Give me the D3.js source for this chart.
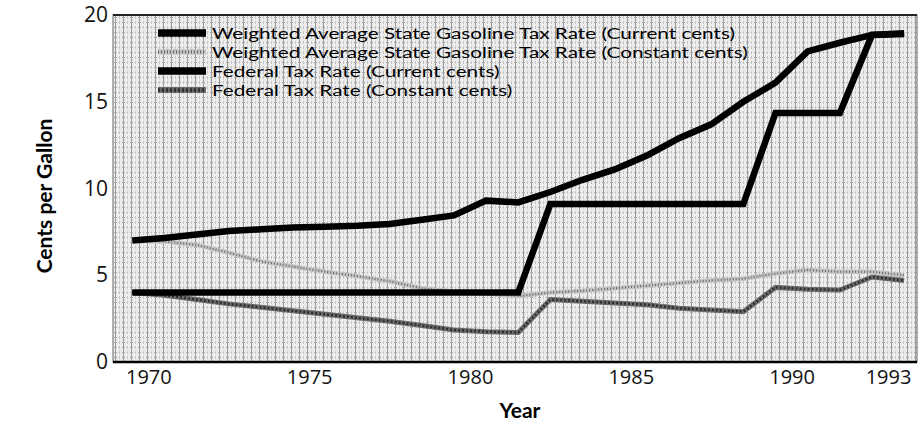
<!DOCTYPE html>
<html>
<head>
<meta charset="utf-8">
<script src="https://cdn.jsdelivr.net/npm/d3@7"></script>
<style>
  body { margin: 0; background: #fff; }
  svg { display: block; }
</style>
</head>
<body>
<div id="chart"></div>
<script>
// Data, one point per year
const years = [1970, 1971, 1972, 1973, 1974, 1975, 1976, 1977, 1978, 1979, 1980, 1981, 1982,
               1983, 1984, 1985, 1986, 1987, 1988, 1989, 1990, 1991, 1992, 1993, 1994];
const stateCurrent = [7.0, 7.15, 7.35, 7.55, 7.65, 7.75, 7.8, 7.85, 7.95, 8.2, 8.45, 9.3, 9.2,
                      9.8, 10.5, 11.1, 11.9, 12.9, 13.7, 15.0, 16.1, 17.9, 18.4, 18.85, 18.9];
const stateConstant = [7.0, 6.95, 6.75, 6.3, 5.8, 5.5, 5.2, 4.95, 4.65, 4.25, 4.05, 3.95, 3.8,
                       4.0, 4.1, 4.25, 4.4, 4.55, 4.7, 4.8, 5.1, 5.3, 5.2, 5.2, 5.0];
const federalCurrent = [4, 4, 4, 4, 4, 4, 4, 4, 4, 4, 4, 4, 4,
                        9.1, 9.1, 9.1, 9.1, 9.1, 9.1, 9.1, 14.35, 14.35, 14.35, 18.85, 18.95];
const federalConstant = [4.0, 3.85, 3.6, 3.35, 3.15, 2.95, 2.75, 2.55, 2.35, 2.1, 1.85, 1.75, 1.7,
                         3.6, 3.5, 3.4, 3.3, 3.1, 3.0, 2.9, 4.3, 4.2, 4.15, 4.9, 4.7];
const tickYears = [1970, 1975, 1980, 1985, 1990, 1993];
const yTicks = [0, 5, 10, 15, 20];
const seriesNames = [
    "Weighted Average State Gasoline Tax Rate (Current cents)",
    "Weighted Average State Gasoline Tax Rate (Constant cents)",
    "Federal Tax Rate (Current cents)",
    "Federal Tax Rate (Constant cents)"
];

const W = 921, H = 428;
const margin = { top: 15, right: 4, bottom: 66, left: 113 };
const width = W - margin.left - margin.right;
const height = H - margin.top - margin.bottom;
const font = "'Open Sans', Lato, sans-serif";

const svg = d3.select("#chart").append("svg")
    .attr("width", W)
    .attr("height", H);

// halftone-ish background pattern
const defs = svg.append("defs");
const pat = defs.append("pattern")
    .attr("id", "screen")
    .attr("patternUnits", "userSpaceOnUse")
    .attr("width", 8).attr("height", 5);
pat.append("rect").attr("width", 8).attr("height", 5).attr("fill", "#ececec");
pat.append("rect").attr("x", 2).attr("y", 0).attr("width", 1).attr("height", 5).attr("fill", "#999");
pat.append("rect").attr("x", 1).attr("y", 2).attr("width", 3).attr("height", 1).attr("fill", "#a8a8a8");
pat.append("rect").attr("x", 6).attr("y", 1).attr("width", 1).attr("height", 3).attr("fill", "#c4c4c4");

const g = svg.append("g")
    .attr("transform", `translate(${margin.left}, ${margin.top})`);

// scales: year points sit half a year left of their tick labels
const x = d3.scaleLinear().domain([1969.4, 1994.4]).range([0, width]);
const y = d3.scaleLinear().domain([0, 20]).range([height, 0]);

g.append("rect")
    .attr("width", width)
    .attr("height", height)
    .attr("fill", "url(#screen)");

// frame
g.append("rect")
    .attr("width", width)
    .attr("height", height)
    .attr("fill", "none")
    .attr("stroke", "#666")
    .attr("stroke-width", 1);
g.append("line")
    .attr("x1", 0).attr("x2", width).attr("y1", 0).attr("y2", 0)
    .attr("stroke", "#222").attr("stroke-width", 2);
g.append("line")
    .attr("x1", 0).attr("x2", width).attr("y1", height).attr("y2", height)
    .attr("stroke", "#000").attr("stroke-width", 2.5);

// axes
const xAxis = d3.axisBottom(x)
    .tickValues(tickYears.map(d => d + 0.5))
    .tickFormat(d => String(Math.floor(d)))
    .tickSize(0)
    .tickPadding(8);
const xg = g.append("g")
    .attr("transform", `translate(0, ${height})`)
    .call(xAxis);
xg.select(".domain").remove();
xg.selectAll("text")
    .attr("font-family", font)
    .attr("font-size", 20)
    .attr("fill", "#111");

const yAxis = d3.axisLeft(y)
    .tickValues(yTicks)
    .tickSize(0)
    .tickPadding(5);
const yg = g.append("g").call(yAxis);
yg.select(".domain").remove();
yg.selectAll("text")
    .attr("font-family", font)
    .attr("font-size", 21)
    .attr("fill", "#111");

// axis titles
svg.append("text")
    .attr("transform", `translate(52, 196) rotate(-90)`)
    .attr("text-anchor", "middle")
    .attr("font-family", "Lato, sans-serif")
    .attr("font-weight", "bold")
    .attr("font-size", 21)
    .text("Cents per Gallon");
svg.append("text")
    .attr("x", 520)
    .attr("y", 418)
    .attr("text-anchor", "middle")
    .attr("font-family", "Lato, sans-serif")
    .attr("font-weight", "bold")
    .attr("font-size", 21)
    .text("Year");

// lines
const rows = years.map((yr, i) => ({
    year: yr,
    sc: stateCurrent[i],
    sk: stateConstant[i],
    fc: federalCurrent[i],
    fk: federalConstant[i]
}));
const line = key => d3.line().x(d => x(d.year)).y(d => y(d[key]));

const styles = [
    { key: "sc", layers: [{ color: "#000", w: 6.5 }] },
    { key: "sk", layers: [{ color: "#c2c2c2", w: 4.5 }, { color: "#666", w: 2, dash: "1,2" }] },
    { key: "fc", layers: [{ color: "#000", w: 6.5 }] },
    { key: "fk", layers: [{ color: "#6a6a6a", w: 5 }, { color: "#2e2e2e", w: 2.5, dash: "2,2" }] }
];

// draw constant-cents series first so the black ones sit on top
[styles[1], styles[3], styles[0], styles[2]].forEach(s => {
    s.layers.forEach(l => {
        g.append("path")
            .datum(rows)
            .attr("fill", "none")
            .attr("stroke", l.color)
            .attr("stroke-width", l.w)
            .attr("stroke-dasharray", l.dash || null)
            .attr("stroke-linejoin", "miter")
            .attr("d", line(s.key));
    });
});

// legend
const legendTop = 33, legendStep = 19;
const legend = svg.append("g");
const texts = [];
styles.forEach((s, i) => {
    const ly = legendTop + i * legendStep;
    s.layers.forEach(l => {
        legend.append("line")
            .attr("x1", 158).attr("x2", 206)
            .attr("y1", ly).attr("y2", ly)
            .attr("stroke", l.color)
            .attr("stroke-width", l.w + 1)
            .attr("stroke-dasharray", l.dash || null);
    });
    texts.push(legend.append("text")
        .attr("x", 212)
        .attr("y", ly + 5.5)
        .attr("font-family", "Lato, sans-serif")
        .attr("font-size", 15.5)
        .attr("fill", "#000")
        .text(seriesNames[i]));
});
// the original face is wider than Lato: stretch every entry by the same
// factor so the first one ends where it does in the chart
const k = 523 / texts[0].node().getComputedTextLength();
texts.forEach(t => {
    const len = t.node().getComputedTextLength();
    t.attr("textLength", len * k).attr("lengthAdjust", "spacingAndGlyphs");
});
</script>
</body>
</html>
